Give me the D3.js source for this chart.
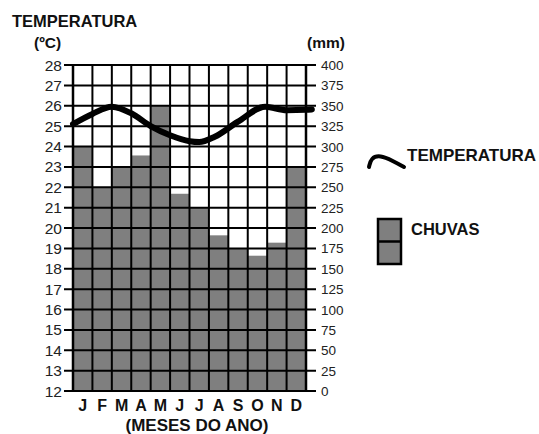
<!DOCTYPE html>
<html lang="pt">
  <head>
    <meta charset="UTF-8" />
    <title>Climograma</title>
    <style>
      body {
        margin: 0;
        background: #fff;
      }
      svg text {
        font-family: "Liberation Sans", Arial, sans-serif;
      }
    </style>
  </head>
  <body>
    <div id="chart"></div>
    <script src="https://cdnjs.cloudflare.com/ajax/libs/d3/7.8.5/d3.min.js"></script>
    <script>
      // data
      var months = ["J", "F", "M", "A", "M2", "J2", "J3", "A2", "S", "O", "N", "D"];
      var monthLabels = ["J", "F", "M", "A", "M", "J", "J", "A", "S", "O", "N", "D"];
      var rain = [300, 250, 275, 289, 350, 242, 225, 191, 175, 166, 182, 275];
      // temperature line, position in months from the left edge
      var tempPos = [0, 1, 2, 3, 4, 5, 6, 6.5, 7.3, 8.5, 9.9, 11, 12, 12.3];
      var tempVal = [25.1, 25.6, 25.95, 25.63, 25.0, 24.55, 24.26, 24.22, 24.48, 25.22, 25.95, 25.78, 25.8, 25.82];
      var tempTicks = d3.range(12, 29);
      var rainTicks = d3.range(0, 401, 25);

      var W = 539, H = 434;
      var pLeft = 73, pRight = 306, pTop = 65, pBottom = 391;

      var svg = d3.select("#chart").append("svg")
        .attr("width", W).attr("height", H);

      var x = d3.scaleBand().domain(months).range([pLeft, pRight]);
      var xl = d3.scaleLinear().domain([0, 12]).range([pLeft, pRight]);
      var yT = d3.scaleLinear().domain([12, 28]).range([pBottom, pTop]);
      var yR = d3.scaleLinear().domain([0, 400]).range([pBottom, pTop]);

      // bars
      svg.append("g").selectAll("rect")
        .data(rain).enter().append("rect")
        .attr("x", function (d, i) { return x(months[i]); })
        .attr("width", x.bandwidth())
        .attr("y", function (d) { return yR(d); })
        .attr("height", function (d) { return pBottom - yR(d); })
        .attr("fill", "#7f7f7f");

      // grid
      var grid = svg.append("g").attr("stroke", "#000").attr("stroke-width", 2);
      grid.selectAll(".h").data(tempTicks).enter().append("line")
        .attr("x1", pLeft - 9).attr("x2", pRight + 10)
        .attr("y1", function (d) { return yT(d); })
        .attr("y2", function (d) { return yT(d); });
      grid.selectAll(".v").data(d3.range(0, 13)).enter().append("line")
        .attr("x1", function (d) { return xl(d); })
        .attr("x2", function (d) { return xl(d); })
        .attr("y1", pTop).attr("y2", pBottom)
        .attr("stroke-width", function (d) { return d === 0 || d === 12 ? 2.5 : 2; });

      // temperature line
      var line = d3.line()
        .x(function (d, i) { return xl(tempPos[i]); })
        .y(function (d) { return yT(d); })
        .curve(d3.curveMonotoneX);
      svg.append("path")
        .datum(tempVal)
        .attr("d", line)
        .attr("fill", "none")
        .attr("stroke", "#000")
        .attr("stroke-width", 6)
        .attr("stroke-linecap", "round")
        .attr("stroke-linejoin", "round");

      // left axis labels
      svg.append("g").selectAll("text")
        .data(tempTicks).enter().append("text")
        .attr("x", 62)
        .attr("y", function (d) { return yT(d) + 5.5; })
        .attr("text-anchor", "end")
        .attr("font-size", 15.5)
        .attr("fill", "#222")
        .text(function (d) { return d; });

      // right axis labels
      svg.append("g").selectAll("text")
        .data(rainTicks).enter().append("text")
        .attr("x", 321)
        .attr("y", function (d) { return yR(d) + 5; })
        .attr("font-size", 13.5)
        .attr("fill", "#222")
        .text(function (d) { return d; });

      // month labels
      svg.append("g").selectAll("text")
        .data(months).enter().append("text")
        .attr("x", function (d) { return x(d) + x.bandwidth() / 2; })
        .attr("y", 411)
        .attr("text-anchor", "middle")
        .attr("font-size", 16)
        .attr("font-weight", "bold")
        .attr("fill", "#111")
        .text(function (d, i) { return monthLabels[i]; });

      svg.append("text")
        .attr("x", 197).attr("y", 431)
        .attr("text-anchor", "middle")
        .attr("font-size", 17).attr("font-weight", "bold").attr("fill", "#111")
        .text("(MESES DO ANO)");

      // titles
      svg.append("text").attr("x", 12).attr("y", 27)
        .attr("font-size", 16.5).attr("font-weight", "bold").attr("fill", "#111")
        .text("TEMPERATURA");
      svg.append("text").attr("x", 34).attr("y", 48)
        .attr("font-size", 15.5).attr("font-weight", "bold").attr("fill", "#111")
        .text("(ºC)");
      svg.append("text").attr("x", 307).attr("y", 48)
        .attr("font-size", 15.5).attr("font-weight", "bold").attr("fill", "#111")
        .text("(mm)");

      // legend
      svg.append("path")
        .attr("d", d3.line().curve(d3.curveBasis)([[369, 167], [371, 158], [380, 155], [393, 161], [404, 167]]))
        .attr("fill", "none").attr("stroke", "#000").attr("stroke-width", 4)
        .attr("stroke-linecap", "round");
      svg.append("text").attr("x", 407).attr("y", 161)
        .attr("font-size", 17).attr("font-weight", "bold").attr("fill", "#111")
        .text("TEMPERATURA");

      var lg = svg.append("g");
      lg.append("rect").attr("x", 378).attr("y", 219).attr("width", 23).attr("height", 45)
        .attr("fill", "#7f7f7f").attr("stroke", "#000").attr("stroke-width", 2.5);
      lg.append("line").attr("x1", 378).attr("x2", 401).attr("y1", 241.5).attr("y2", 241.5)
        .attr("stroke", "#000").attr("stroke-width", 2.5);
      svg.append("text").attr("x", 411).attr("y", 235)
        .attr("font-size", 16.5).attr("font-weight", "bold").attr("fill", "#111")
        .text("CHUVAS");
    </script>
  </body>
</html>
